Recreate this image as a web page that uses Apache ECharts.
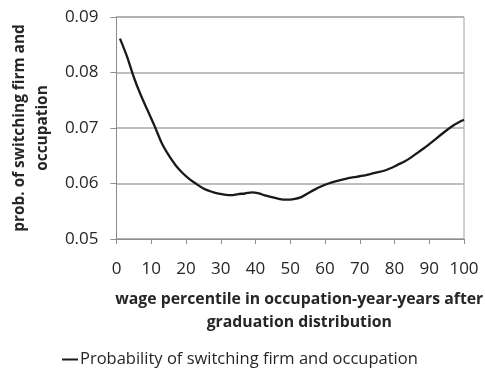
<!DOCTYPE html>
<html>
<head>
<meta charset="utf-8">
<script src="https://cdn.jsdelivr.net/npm/echarts@6/dist/echarts.min.js"></script>
<style>html,body{margin:0;padding:0;background:#fff}#c{width:485px;height:370px}</style>
</head>
<body>
<div id="c"></div>
<script>
var percentiles = [1,3,5,7,9,11,13,15,17,19,21,23,25,27,29,31,33,35,37,39,41,43,45,47,49,51,53,55,57,59,61,63,65,67,69,71,73,75,77,79,81,83,85,87,89,91,93,95,97,99,100];
var probSwitch = [0.0861,0.0829,0.0791,0.0759,0.0731,0.0703,0.0673,0.0651,0.0633,0.0619,0.0608,0.0599,0.0591,0.0586,0.0582,0.0580,0.0579,0.0581,0.0582,0.0584,0.0582,0.0578,0.0575,0.0572,0.0571,0.0572,0.0575,0.0582,0.0589,0.0595,0.0600,0.0604,0.0607,0.0610,0.0612,0.0614,0.0617,0.0620,0.0623,0.0628,0.0634,0.0640,0.0648,0.0657,0.0666,0.0676,0.0686,0.0696,0.0705,0.0712,0.0715];
var seriesName = 'Probability of switching firm and occupation';
var xTitle = 'wage percentile in occupation-year-years after\ngraduation distribution';
var yTitle = 'prob. of switching firm and\noccupation';

var data = percentiles.map(function(p,i){return [p, probSwitch[i]];});
var chart = echarts.init(document.getElementById('c'), null, {renderer:'canvas'});
var txt = '#262626';
var font = 'Open Sans';
chart.setOption({
  animation:false,
  backgroundColor:'#fff',
  grid:{left:111,right:21,top:17,bottom:131,show:true,borderColor:'#a0a0a0',borderWidth:1},
  legend:{
    top:346,left:57,
    data:[{name:seriesName, icon:'rect'}],
    itemWidth:16,itemHeight:2,
    textStyle:{color:txt,fontFamily:font,fontSize:16.5,padding:[0,0,0,-3]}
  },
  xAxis:{
    type:'value',min:0,max:100,interval:10,
    name:xTitle,nameLocation:'middle',nameGap:49,
    nameTextStyle:{color:txt,fontFamily:font,fontSize:15.8,fontWeight:'bold',lineHeight:23,padding:[0,0,0,18]},
    axisLine:{lineStyle:{color:'#8c8c8c',width:1}},
    axisTick:{show:true,length:5,lineStyle:{color:'#8c8c8c'}},
    axisLabel:{color:txt,fontFamily:font,fontSize:17,margin:22},
    splitLine:{show:false}
  },
  yAxis:{
    type:'value',min:0.05,max:0.09,interval:0.01,
    name:yTitle,nameLocation:'middle',nameRotate:90,nameGap:59,
    nameTextStyle:{color:txt,fontFamily:font,fontSize:15.4,fontWeight:'bold',lineHeight:23},
    axisLine:{show:true,lineStyle:{color:'#8c8c8c',width:1}},
    axisTick:{show:true,length:6,lineStyle:{color:'#8c8c8c'}},
    axisLabel:{color:txt,fontFamily:font,fontSize:17,margin:18,formatter:function(v){return v.toFixed(2);}},
    splitLine:{show:true,lineStyle:{color:'#a8a8a8',width:1.5}}
  },
  series:[{
    name:seriesName,type:'line',data:data,smooth:0.3,showSymbol:false,
    lineStyle:{color:'#1a1a1a',width:2.3},itemStyle:{color:'#1a1a1a'}
  }]
});
</script>
</body>
</html>
